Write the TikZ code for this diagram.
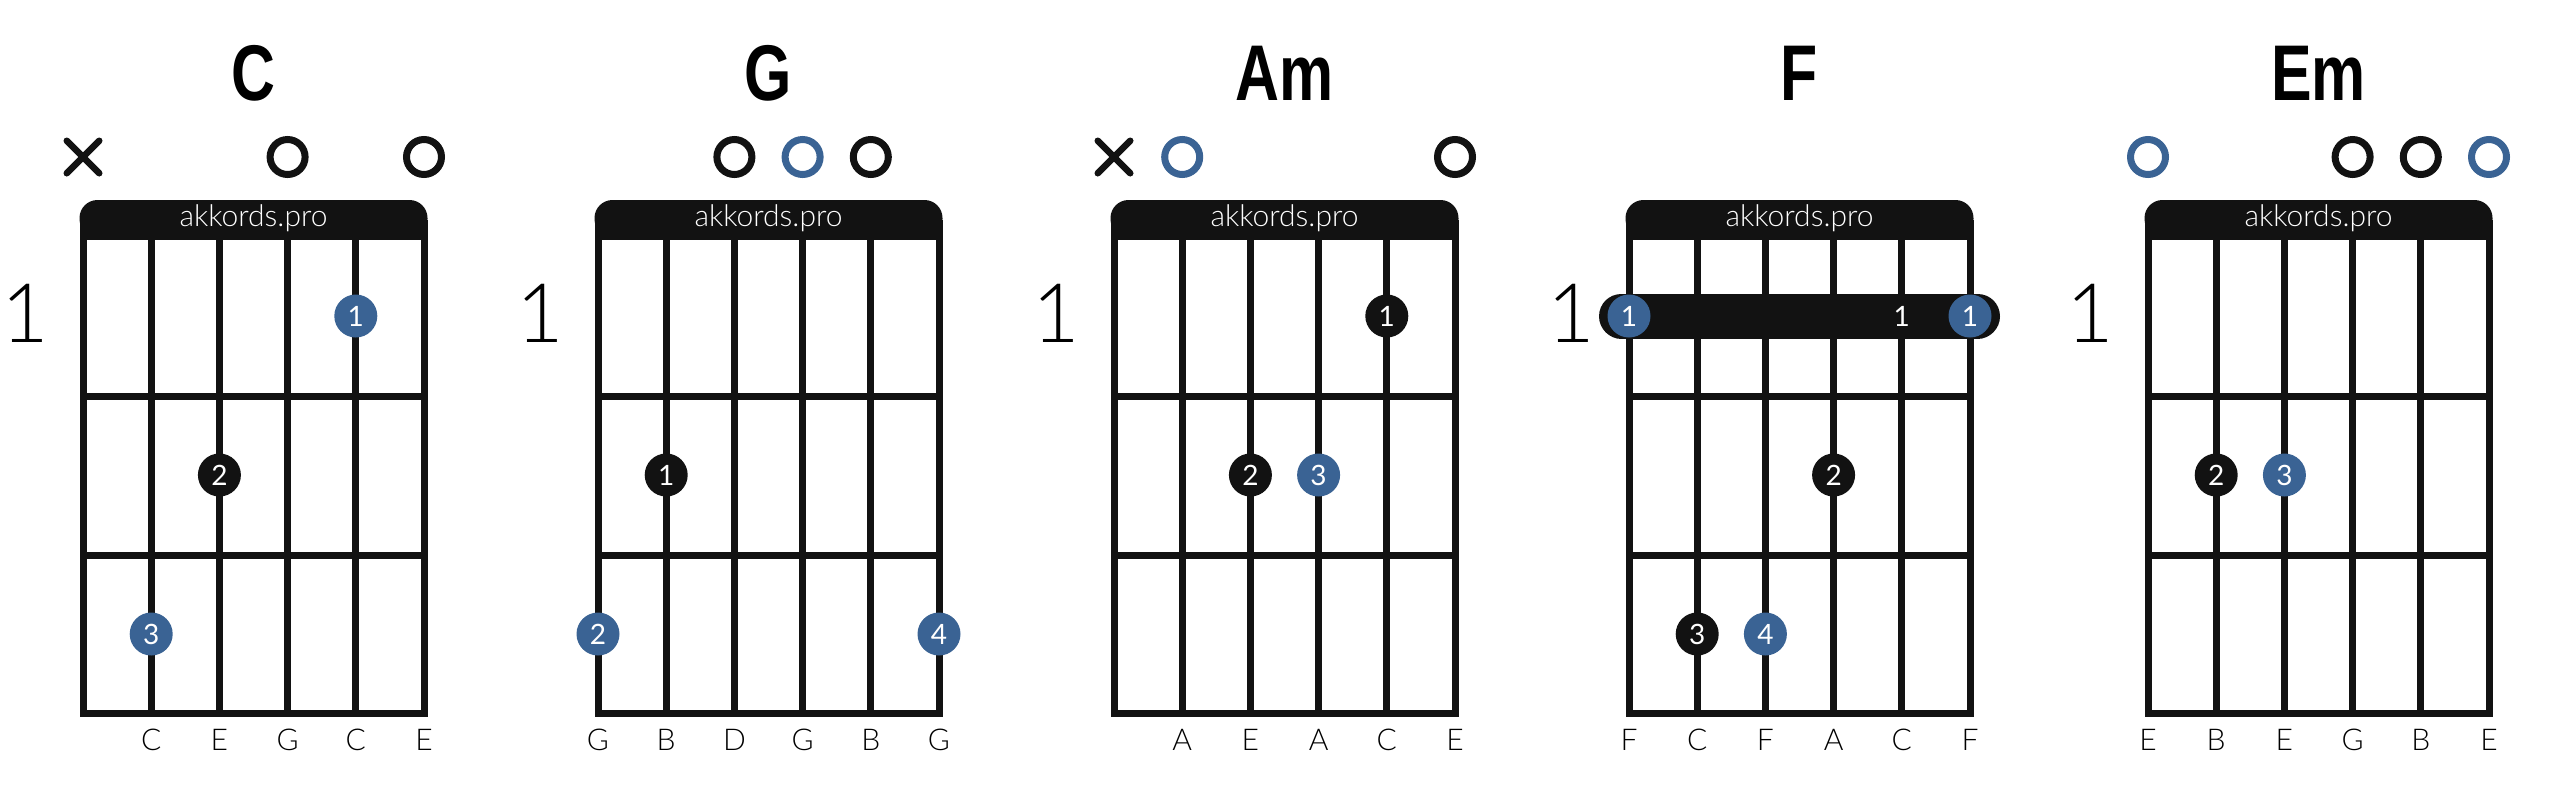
\documentclass[tikz,border=0pt]{standalone}
\usepackage{fontspec}
\setmainfont{Lato}
\newfontfamily\lightfont{Lato Light}
\newfontfamily\titlefont{Liberation Sans}[FakeStretch=0.77]
\usetikzlibrary{shapes.misc}

\definecolor{inkblack}{HTML}{121212}
\definecolor{rootblue}{HTML}{3A6394}

\tikzset{
  gtrstring/.style={draw=inkblack, line width=7pt, line cap=rect},
  gtrfret/.style={draw=inkblack, line width=7pt, line cap=rect},
  chordname/.style={anchor=base, inner sep=0pt,
    font=\titlefont\bfseries\fontsize{79}{80}\selectfont},
  fretno/.style={anchor=base, inner sep=0pt,
    font=\lightfont\fontsize{82}{82}\selectfont},
  brand/.style={anchor=base, inner sep=0pt, text=white,
    font=\lightfont\fontsize{30}{30}\selectfont},
  stringnote/.style={anchor=base, inner sep=0pt,
    font=\lightfont\fontsize{30}{30}\selectfont},
  fingerdot/.style={circle, inner sep=0pt, minimum size=43pt, text=white,
    font=\fontsize{28}{28}\selectfont},
  openring/.style={circle, inner sep=0pt, minimum size=35pt, line width=7pt},
  muted/.style={cross out, draw=inkblack, inner sep=0pt, minimum size=26pt,
    line width=6.5pt, line cap=round},
  barre/.style={draw=inkblack, line width=45pt, line cap=round},
  bartext/.style={text=white, inner sep=0pt, font=\fontsize{28}{28}\selectfont},
}

% #1 chord, #2 left string x, #3 chord name
\newcommand{\fretboard}[3]{%
  \begin{scope}[shift={(#2,0)}]
    \fill[inkblack, rounded corners=18pt] (-3.5,200) rectangle (344.5,237);
    \fill[inkblack] (-3.5,220) rectangle (344.5,240);
    \foreach \s in {0,...,5} {
      \coordinate (#1-s\s) at (\s*68.2,0);
      \draw[gtrstring] (\s*68.2,237) -- (\s*68.2,713);
    }
    \foreach \f in {396,555,713}
      \draw[gtrfret] (0,\f) -- (341,\f);
    \coordinate (#1-top) at (0,157);
    \coordinate (#1-fc1) at (0,316);
    \coordinate (#1-fc2) at (0,475);
    \coordinate (#1-fc3) at (0,634);
    \coordinate (#1-bot) at (0,750);
    \node[chordname] (#1-name) at (170.5,100) {#3};
    \node[brand] (#1-brand) at (170.5,226) {akkords.pro};
    \node[fretno] (#1-pos) at (-58,342) {1};
  \end{scope}}

% #1 chord, #2 string, #3 fret, #4 colour, #5 finger
\newcommand{\finger}[5]{%
  \node[fingerdot, fill=#4] (#1-d#2) at (#1-s#2 |- #1-fc#3) {#5};}

% #1 chord, #2 string, #3 colour
\newcommand{\openstring}[3]{%
  \node[openring, draw=#3] (#1-o#2) at (#1-s#2 |- #1-top) {};}

% #1 chord, #2 string
\newcommand{\mutestring}[2]{%
  \node[muted] (#1-x#2) at (#1-s#2 |- #1-top) {};}

% #1 chord, #2 list string/note
\newcommand{\stringnames}[2]{%
  \foreach \s/\n in {#2}
    \node[stringnote] (#1-n\s) at (#1-s\s |- #1-bot) {\n};}

\begin{document}
\begin{tikzpicture}[x=1pt, y=-1pt]
  \useasboundingbox (0,0) rectangle (2560,796);

  % Fretboards
  \fretboard {C}  {83}   {C}  %
  \fretboard {G}  {598}  {G}  %
  \fretboard {Am} {1114} {Am} %
  \fretboard {F}  {1629} {F}  %
  \fretboard {Em} {2148} {Em} %

  % Open and muted strings
  \mutestring {C}  {0}            %
  \openstring {C}  {3} {inkblack} %
  \openstring {C}  {5} {inkblack} %
  \openstring {G}  {2} {inkblack} %
  \openstring {G}  {3} {rootblue} %
  \openstring {G}  {4} {inkblack} %
  \mutestring {Am} {0}            %
  \openstring {Am} {1} {rootblue} %
  \openstring {Am} {5} {inkblack} %
  \openstring {Em} {0} {rootblue} %
  \openstring {Em} {3} {inkblack} %
  \openstring {Em} {4} {inkblack} %
  \openstring {Em} {5} {rootblue} %

  % Barre
  \coordinate (F-bl) at (F-s0 |- F-fc1); %
  \coordinate (F-br) at (F-s5 |- F-fc1); %
  \draw[barre] ([xshift=-7.5pt]F-bl) -- ([xshift=7.5pt]F-br); %
  \node[bartext] (F-b4) at (F-s4 |- F-fc1) {1}; %

  % Fingers
  \finger {C}  {4} {1} {rootblue} {1} %
  \finger {C}  {2} {2} {inkblack} {2} %
  \finger {C}  {1} {3} {rootblue} {3} %
  \finger {G}  {1} {2} {inkblack} {1} %
  \finger {G}  {0} {3} {rootblue} {2} %
  \finger {G}  {5} {3} {rootblue} {4} %
  \finger {Am} {4} {1} {inkblack} {1} %
  \finger {Am} {2} {2} {inkblack} {2} %
  \finger {Am} {3} {2} {rootblue} {3} %
  \finger {F}  {0} {1} {rootblue} {1} %
  \finger {F}  {5} {1} {rootblue} {1} %
  \finger {F}  {3} {2} {inkblack} {2} %
  \finger {F}  {1} {3} {inkblack} {3} %
  \finger {F}  {2} {3} {rootblue} {4} %
  \finger {Em} {1} {2} {inkblack} {2} %
  \finger {Em} {2} {2} {rootblue} {3} %

  % String names
  \stringnames {C}  {1/C,2/E,3/G,4/C,5/E} %
  \stringnames {G}  {0/G,1/B,2/D,3/G,4/B,5/G} %
  \stringnames {Am} {1/A,2/E,3/A,4/C,5/E} %
  \stringnames {F}  {0/F,1/C,2/F,3/A,4/C,5/F} %
  \stringnames {Em} {0/E,1/B,2/E,3/G,4/B,5/E} %

\end{tikzpicture}
\end{document}
